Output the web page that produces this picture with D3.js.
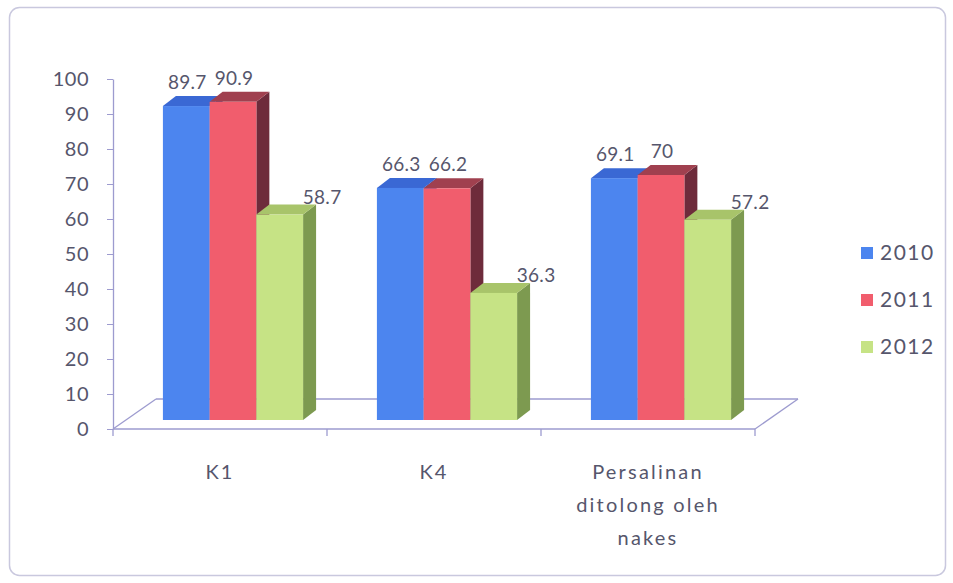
<!DOCTYPE html>
<html>
<head>
<meta charset="utf-8">
<script src="https://cdn.jsdelivr.net/npm/d3@7"></script>
<style>
  html, body { margin: 0; padding: 0; background: #fff; }
  svg { display: block; font-family: "Lato", "Open Sans", sans-serif; }
</style>
</head>
<body>
<div id="chart"></div>
<script>
const categories = ["K1", "K4", "Persalinan ditolong oleh nakes"];
const categoryLines = [["K1"], ["K4"], ["Persalinan", "ditolong oleh", "nakes"]];
const years = ["2010", "2011", "2012"];
const values2010 = [89.7, 66.3, 69.1];
const values2011 = [90.9, 66.2, 70];
const values2012 = [58.7, 36.3, 57.2];
const yTicks = [0, 10, 20, 30, 40, 50, 60, 70, 80, 90, 100];

const series = [values2010, values2011, values2012];
const colors = [
    { front: "#4c85ef", top: "#3a68d4", side: "#2d54b0" },
    { front: "#f15d6d", top: "#a0404f", side: "#6e2b3b" },
    { front: "#c6e385", top: "#a8c46a", side: "#7d9a50" }
];
const textColor = "#56566c";

const width = 953, height = 583;
const svg = d3.select("#chart").append("svg").attr("width", width).attr("height", height);

// outer frame
svg.append("rect")
    .attr("x", 9.5).attr("y", 7.5).attr("width", 936).attr("height", 568)
    .attr("rx", 10).attr("fill", "#fff").attr("stroke", "#c9c8de").attr("stroke-width", 1.5);

const y = d3.scaleLinear().domain([0, 100]).range([429, 79]);
const x0 = d3.scaleBand().domain(categories).range([113, 755]);
const x1 = d3.scaleBand().domain(years).range([0, x0.bandwidth()]).paddingInner(0).paddingOuter(0.79);

// floor depth and bar placement inside it
const floorDx = 43, floorDy = -30;
const frontDx = 13, frontDy = -9;
const barDx = 13, barDy = -10;
const lineColor = "#9d9bcf";

// floor
const floor = svg.append("g").attr("fill", "none").attr("stroke", lineColor).attr("stroke-width", 1.3);
floor.append("line").attr("x1", 113 + floorDx).attr("y1", y(0) + floorDy)
    .attr("x2", 755 + floorDx).attr("y2", y(0) + floorDy);
floor.append("line").attr("x1", 113).attr("y1", y(0))
    .attr("x2", 113 + floorDx).attr("y2", y(0) + floorDy);
floor.append("line").attr("x1", 755).attr("y1", y(0))
    .attr("x2", 755 + floorDx).attr("y2", y(0) + floorDy);

// bars
categories.forEach((cat, ci) => {
    const g = svg.append("g");
    years.forEach((yr, si) => {
        const v = series[si][ci];
        const c = colors[si];
        const xl = x0(cat) + x1(yr) + frontDx;
        const xr = xl + x1.bandwidth();
        const yt = y(v) + frontDy;
        const yb = y(0) + frontDy;
        // side
        g.append("path")
            .attr("d", `M${xr},${yt}L${xr + barDx},${yt + barDy}L${xr + barDx},${yb + barDy}L${xr},${yb}Z`)
            .attr("fill", c.side);
        // top
        g.append("path")
            .attr("d", `M${xl},${yt}L${xl + barDx},${yt + barDy}L${xr + barDx},${yt + barDy}L${xr},${yt}Z`)
            .attr("fill", c.top);
        // front
        g.append("rect")
            .attr("x", xl).attr("y", yt)
            .attr("width", x1.bandwidth()).attr("height", yb - yt)
            .attr("fill", c.front);
    });
    // value labels
    years.forEach((yr, si) => {
        const v = series[si][ci];
        const xl = x0(cat) + x1(yr) + frontDx;
        const last = si === years.length - 1;
        svg.append("text")
            .attr("x", last ? xl + x1.bandwidth() + 19 : xl + x1.bandwidth() / 2 + 1)
            .attr("y", y(v) + frontDy - (last ? 11 : 17))
            .attr("text-anchor", "middle")
            .attr("font-size", 19)
            .attr("letter-spacing", 0.3)
            .attr("fill", textColor)
            .text(v);
    });
});

// front floor line with category ticks
svg.append("line").attr("x1", 113).attr("y1", y(0)).attr("x2", 755).attr("y2", y(0))
    .attr("stroke", lineColor).attr("stroke-width", 1.5);
const bounds = categories.map(c => x0(c)).concat([x0.range()[1]]);
svg.selectAll(".xtick").data(bounds).enter().append("line")
    .attr("x1", d => d).attr("x2", d => d)
    .attr("y1", y(0)).attr("y2", y(0) + 7)
    .attr("stroke", lineColor).attr("stroke-width", 1.3);

// y axis
const yAxis = d3.axisLeft(y).tickValues(yTicks).tickSize(6).tickSizeOuter(0).tickPadding(18);
const ya = svg.append("g").attr("transform", "translate(113,0)").call(yAxis);
ya.select(".domain").attr("stroke", lineColor).attr("stroke-width", 1.3);
ya.selectAll(".tick line").attr("stroke", lineColor);
ya.selectAll(".tick text").attr("font-size", 20).attr("fill", textColor)
    .attr("letter-spacing", 0.5)
    .attr("font-family", "Lato, 'Open Sans', sans-serif");

// category labels
categories.forEach((cat, ci) => {
    const cx = x0(cat) + x0.bandwidth() / 2;
    const t = svg.append("text").attr("text-anchor", "middle")
        .attr("font-size", 20).attr("letter-spacing", 2.2).attr("fill", textColor);
    categoryLines[ci].forEach((line, li) => {
        t.append("tspan").attr("x", cx).attr("y", 479 + li * 33).text(line);
    });
});

// legend
const legend = svg.append("g");
years.forEach((yr, si) => {
    const ly = 253 + si * 47;
    legend.append("rect").attr("x", 861).attr("y", ly - 6).attr("width", 12).attr("height", 12)
        .attr("fill", colors[si].front);
    legend.append("text").attr("x", 880).attr("y", ly + 7)
        .attr("font-size", 21).attr("letter-spacing", 1.5).attr("fill", textColor).text(yr);
});
</script>
</body>
</html>
